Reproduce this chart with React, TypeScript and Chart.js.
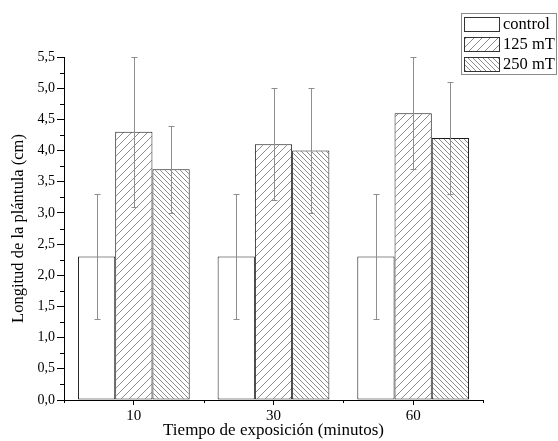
import React, { useEffect, useRef } from "react";
import { Chart, registerables } from "chart.js";

Chart.register(...registerables);

const categories = ["10", "30", "60"];
const seriesLabels = ["control", "125 mT", "250 mT"];
const controlValues = [2.3, 2.3, 2.3];
const controlErrors = [1.0, 1.0, 1.0];
const mt125Values = [4.3, 4.1, 4.6];
const mt125Errors = [1.2, 0.9, 0.9];
const mt250Values = [3.7, 4.0, 4.2];
const mt250Errors = [0.7, 1.0, 0.9];
const xTitle = "Tiempo de exposición (minutos)";
const yTitle = "Longitud de la plántula (cm)";
const yMin = 0;
const yMax = 5.5;
const yStep = 0.5;

const SERIF = "'Liberation Serif', 'Times New Roman', serif";

function makeHatch(ctx: CanvasRenderingContext2D, size: number, dir: string) {
  const c = document.createElement("canvas");
  c.width = size;
  c.height = size;
  const g = c.getContext("2d")!;
  g.fillStyle = "#ffffff";
  g.fillRect(0, 0, size, size);
  g.strokeStyle = "#8c8c8c";
  g.lineWidth = 1;
  g.beginPath();
  if (dir === "/") {
    g.moveTo(-1, size + 1);
    g.lineTo(size + 1, -1);
    g.moveTo(-1, 1);
    g.lineTo(1, -1);
    g.moveTo(size - 1, size + 1);
    g.lineTo(size + 1, size - 1);
  } else {
    g.moveTo(-1, -1);
    g.lineTo(size + 1, size + 1);
    g.moveTo(size - 1, -1);
    g.lineTo(size + 1, 1);
    g.moveTo(-1, size - 1);
    g.lineTo(1, size + 1);
  }
  g.stroke();
  return ctx.createPattern(c, "repeat") as CanvasPattern;
}

export default function App() {
  const ref = useRef<HTMLCanvasElement | null>(null);

  useEffect(() => {
    const canvas = ref.current!;
    const ctx = canvas.getContext("2d")!;
    const hatch125 = makeHatch(ctx, 8, "/");
    const hatch250 = makeHatch(ctx, 5, "\\");
    const errors = [controlErrors, mt125Errors, mt250Errors];

    const errorBars = {
      id: "errorBars",
      afterDatasetsDraw(chart: any) {
        const c = chart.ctx;
        const y = chart.scales.y;
        c.save();
        c.strokeStyle = "#8e8e8e";
        c.lineWidth = 1;
        chart.data.datasets.forEach((ds: any, di: number) => {
          const meta = chart.getDatasetMeta(di);
          meta.data.forEach((bar: any, i: number) => {
            const v = ds.data[i];
            const e = errors[di][i];
            const x = Math.round(bar.x) + 0.5;
            const yt = Math.round(y.getPixelForValue(v + e)) + 0.5;
            const yb = Math.round(y.getPixelForValue(v - e)) + 0.5;
            c.beginPath();
            c.moveTo(x, yt);
            c.lineTo(x, yb);
            c.moveTo(x - 3, yt);
            c.lineTo(x + 3, yt);
            c.moveTo(x - 3, yb);
            c.lineTo(x + 3, yb);
            c.stroke();
          });
        });
        c.restore();
      },
    };

    const minorTicks = {
      id: "minorTicks",
      afterDraw(chart: any) {
        const c = chart.ctx;
        const xs = chart.scales.x;
        const ys = chart.scales.y;
        const area = chart.chartArea;
        c.save();
        c.strokeStyle = "#000";
        c.lineWidth = 1;
        c.beginPath();
        for (let v = yMin + yStep / 2; v < yMax; v += yStep) {
          const py = Math.round(ys.getPixelForValue(v)) + 0.5;
          c.moveTo(area.left - 4, py);
          c.lineTo(area.left, py);
        }
        for (let i = 0; i <= categories.length; i++) {
          const px = Math.round(xs.getPixelForValue(i - 0.5)) + 0.5;
          c.moveTo(px, area.bottom);
          c.lineTo(px, area.bottom + 3);
        }
        c.stroke();
        c.restore();
      },
    };

    const boxLegend = {
      id: "boxLegend",
      afterDraw(chart: any) {
        const c = chart.ctx;
        const bx = 461.5;
        const by = 13.5;
        const bw = 95;
        const bh = 61;
        c.save();
        c.fillStyle = "#fff";
        c.fillRect(bx, by, bw, bh);
        c.strokeStyle = "#8a8a8a";
        c.lineWidth = 1;
        c.strokeRect(bx, by, bw, bh);
        c.font = "16.5px " + SERIF;
        c.textBaseline = "middle";
        c.textAlign = "left";
        chart.data.datasets.forEach((ds: any, i: number) => {
          const sy = 17.5 + i * 20;
          c.fillStyle = ds.backgroundColor;
          c.fillRect(464.5, sy, 35, 14);
          c.strokeStyle = "#333";
          c.strokeRect(464.5, sy, 35, 14);
          c.fillStyle = "#000";
          c.fillText(ds.label, 503, sy + 7.5);
        });
        c.restore();
      },
    };

    const chart = new Chart(canvas, {
      type: "bar",
      data: {
        labels: categories,
        datasets: [
          {
            label: seriesLabels[0],
            data: controlValues,
            backgroundColor: "#ffffff",
            borderColor: "#1a1a1a",
            borderWidth: 1,
            borderSkipped: false,
          },
          {
            label: seriesLabels[1],
            data: mt125Values,
            backgroundColor: hatch125 as any,
            borderColor: "#1a1a1a",
            borderWidth: 1,
            borderSkipped: false,
          },
          {
            label: seriesLabels[2],
            data: mt250Values,
            backgroundColor: hatch250 as any,
            borderColor: "#1a1a1a",
            borderWidth: 1,
            borderSkipped: false,
          },
        ],
      },
      options: {
        responsive: false,
        animation: false,
        datasets: { bar: { categoryPercentage: 0.8, barPercentage: 1.0 } },
        layout: { padding: { left: 0, right: 75, top: 57, bottom: 0 } },
        plugins: {
          legend: { display: false },
          tooltip: { enabled: false },
          title: { display: false },
        },
        scales: {
          x: {
            type: "category",
            offset: true,
            afterFit: (s: any) => {
              s.height = 41;
            },
            border: { color: "#000", width: 1 },
            grid: {
              offset: false,
              drawOnChartArea: false,
              drawTicks: true,
              tickLength: 5,
              color: "#000",
            },
            ticks: {
              color: "#000",
              padding: 2,
              font: { family: SERIF, size: 15 },
            },
            title: {
              display: true,
              text: xTitle,
              color: "#000",
              padding: { top: 0, bottom: 0 },
              font: { family: SERIF, size: 17, lineHeight: 1.2 },
            },
          },
          y: {
            min: yMin,
            max: yMax,
            afterFit: (s: any) => {
              s.width = 64;
            },
            border: { color: "#000", width: 1 },
            grid: {
              drawOnChartArea: false,
              drawTicks: true,
              tickLength: 7,
              color: "#000",
            },
            ticks: {
              stepSize: yStep,
              color: "#000",
              padding: 2,
              font: { family: SERIF, size: 14 },
              callback: (v: any) => Number(v).toFixed(1).replace(".", ","),
            },
            title: {
              display: true,
              text: yTitle,
              color: "#000",
              padding: { top: 9, bottom: 0 },
              font: { family: SERIF, size: 16.5, lineHeight: 1.2 },
            },
          },
        },
      },
      plugins: [errorBars, minorTicks, boxLegend],
    } as any);

    return () => chart.destroy();
  }, []);

  return (
    <div style={{ position: "absolute", left: 0, top: 0, width: 558, height: 441, background: "#fff" }}>
      <canvas ref={ref} width={558} height={441} style={{ display: "block" }} />
    </div>
  );
}
